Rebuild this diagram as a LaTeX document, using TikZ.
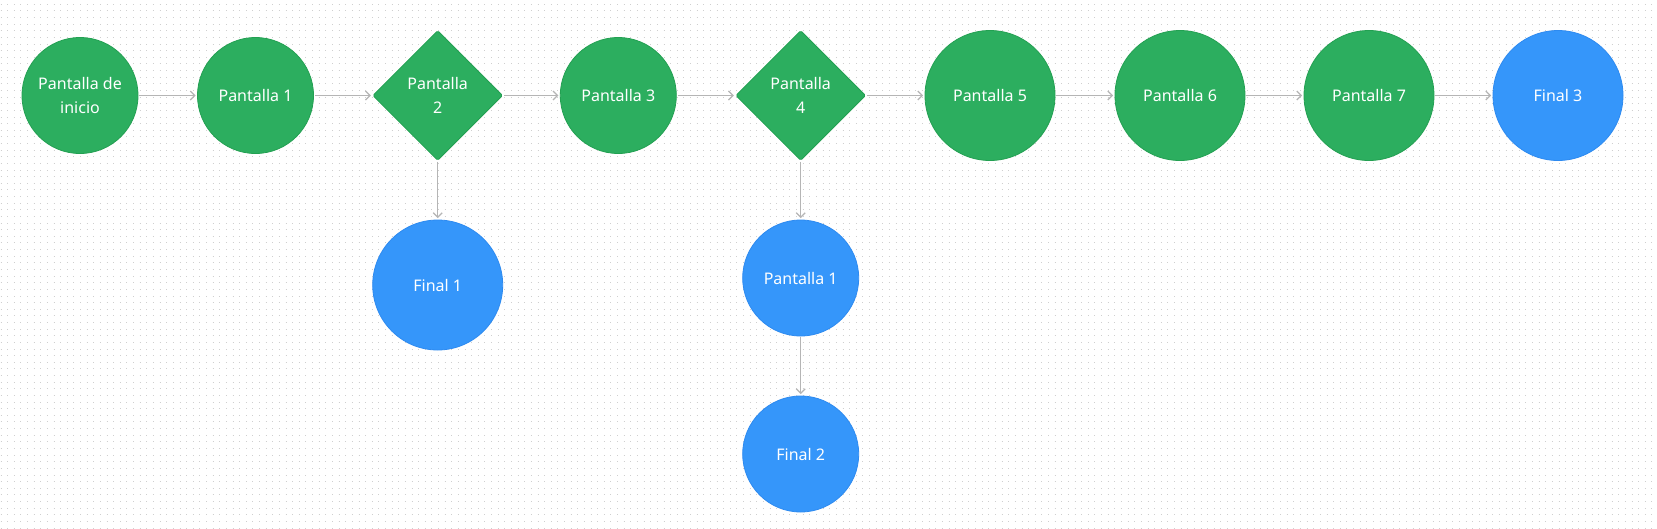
\documentclass[tikz,border=0pt]{standalone}
\usepackage{fontspec}
\setmainfont{Noto Sans}
\usetikzlibrary{shapes.geometric,arrows.meta}
\definecolor{grn}{HTML}{2CAE5F}
\definecolor{grnb}{HTML}{23A052}
\definecolor{blu}{HTML}{3596FA}
\definecolor{blub}{HTML}{2D8AF0}
\definecolor{arrc}{HTML}{B5B5B5}
\definecolor{dotc}{HTML}{CFCFCF}
\begin{document}
\begin{tikzpicture}[x=1pt,y=-1pt,
  base/.style={text=white,font=\fontsize{16}{24}\selectfont,align=center,inner sep=0pt},
  gsmall/.style={base,circle,fill=grn,draw=grnb,line width=0.8pt,minimum size=116pt},
  gbig/.style={base,circle,fill=grn,draw=grnb,line width=0.8pt,minimum size=130pt},
  bsmall/.style={base,circle,fill=blu,draw=blub,line width=0.8pt,minimum size=116pt},
  bbig/.style={base,circle,fill=blu,draw=blub,line width=0.8pt,minimum size=130pt},
  gdia/.style={base,diamond,fill=grn,draw=grnb,line width=0.8pt,minimum width=130pt,minimum height=130pt,rounded corners=1.5pt},
  conn/.style={draw=arrc,line width=1.2pt,-{Straight Barb[length=4.5pt,width=9pt]},shorten >=1.5pt,shorten <=1pt}
]
\fill[white] (0,0) rectangle (1657,528);
\useasboundingbox (0,0) rectangle (1657,528);
\foreach \r in {0,...,79}
  \draw[dotc,line width=1pt,dash pattern=on 1pt off 5.63pt] (0.5,{4.3+\r*6.63}) -- (1657,{4.3+\r*6.63});

\node[gsmall] (s)  at (80,95.5)   {Pantalla de\\inicio};
\node[gsmall] (p1) at (255.5,95.5) {Pantalla 1};
\node[gdia]   (p2) at (437.7,95.5) {Pantalla\\2};
\node[gsmall] (p3) at (618.3,95.5) {Pantalla 3};
\node[gdia]   (p4) at (800.7,95.5) {Pantalla\\4};
\node[gbig]   (p5) at (990,95.5)   {Pantalla 5};
\node[gbig]   (p6) at (1180,95.5)  {Pantalla 6};
\node[gbig]   (p7) at (1369,95.5)  {Pantalla 7};
\node[bbig]   (f3) at (1558,95.5)  {Final 3};
\node[bbig]   (f1) at (437.7,285)  {Final 1};
\node[bsmall] (b1) at (800.7,278)  {Pantalla 1};
\node[bsmall] (f2) at (800.7,454)  {Final 2};

\draw[conn] (s) -- (p1);
\draw[conn] (p1) -- (p2);
\draw[conn] (p2) -- (p3);
\draw[conn] (p3) -- (p4);
\draw[conn] (p4) -- (p5);
\draw[conn] (p5) -- (p6);
\draw[conn] (p6) -- (p7);
\draw[conn] (p7) -- (f3);
\draw[conn] (p2) -- (f1);
\draw[conn] (p4) -- (b1);
\draw[conn] (b1) -- (f2);
\end{tikzpicture}
\end{document}
